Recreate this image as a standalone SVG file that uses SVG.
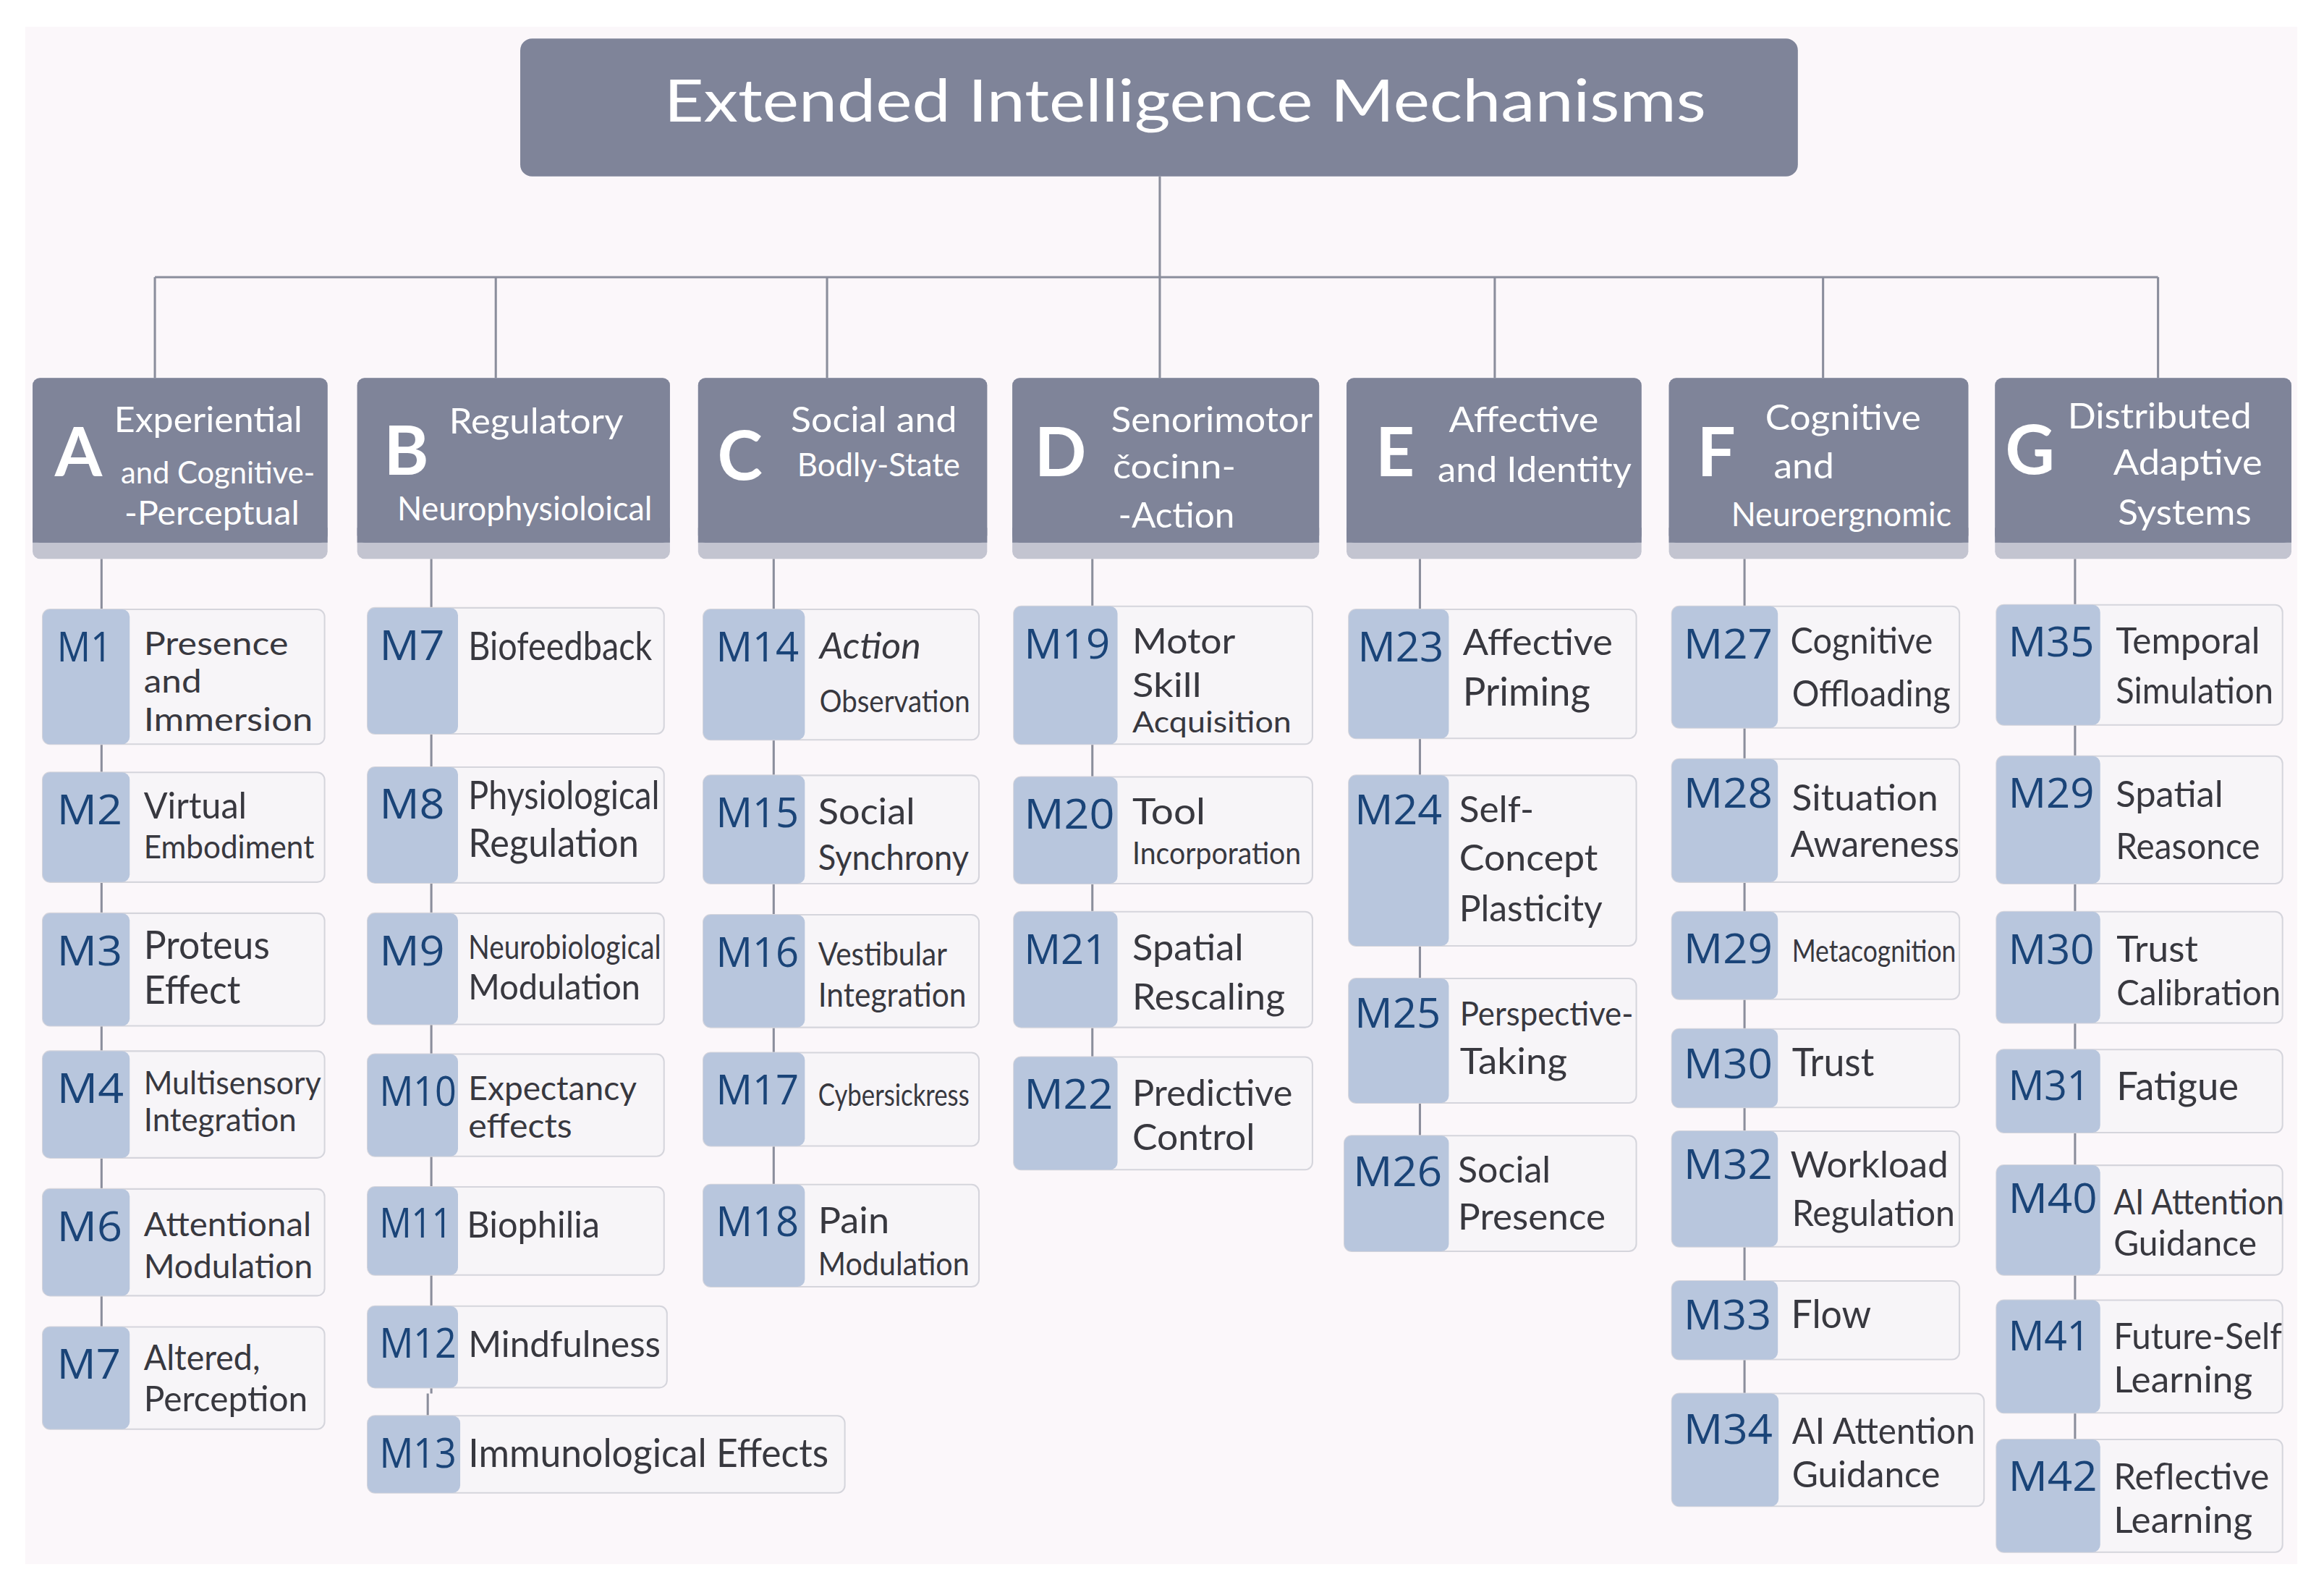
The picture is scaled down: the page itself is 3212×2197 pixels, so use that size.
<svg xmlns="http://www.w3.org/2000/svg" width="3212" height="2197" viewBox="0 0 3212 2197">
<style>
.cat{fill:#7f8499}
.band{fill:#c3c4d0}
.ct{font-family:Lato,"Liberation Sans",sans-serif;fill:#ffffff}
.cl{font-family:Lato,"Liberation Sans",sans-serif;font-weight:bold;fill:#ffffff;font-size:46px}
.pn{fill:#f7f5f8;stroke:#d5d5dc;stroke-width:1}
.tb{fill:#b8c6dd}
.lb{font-family:"Open Sans","Liberation Sans",sans-serif;fill:#1a4478;font-size:28px}
.d{font-family:Lato,"Liberation Sans",sans-serif;fill:#38383f}
.cn{stroke:#8b8e9c;stroke-width:1.5;fill:none}
</style>
<rect x="0" y="0" width="3212" height="2197" fill="#ffffff"/>
<g transform="scale(2.0485)">
<rect x="17" y="18" width="1533" height="1037" fill="#fbf7fa"/>

<g id="connectors">
<path class="cn" d="M782.5 119V187M104.5 187H1456M104.5 187V255M334.5 187V255M558 187V255M782.5 187V255M1008.5 187V255M1230 187V255M1456 187V255"/>
<path class="cn" d="M68.5 377V895M291 377V940M288.6 940V955M522 377V799M737 377V713M958 377V766M1177 377V940M1400 377V971"/>
</g>

<g id="root">
<rect x="351" y="26" width="862" height="93" rx="8" class="cat"/>
<text class="ct" x="448" y="82" font-size="40" textLength="703" lengthAdjust="spacingAndGlyphs">Extended Intelligence Mechanisms</text>
</g>

<g id="catA">
<rect x="22" y="255" width="199" height="122" rx="5" class="band"/>
<rect x="22" y="255" width="199" height="111" rx="5" class="cat"/>
<rect x="22" y="356" width="199" height="10" class="cat"/>
<text class="cl" x="37" y="321">A</text>
<text class="ct" x="77" y="291.5" font-size="24" textLength="127" lengthAdjust="spacingAndGlyphs">Experiential</text>
<text class="ct" x="81.5" y="326" font-size="21" textLength="131" lengthAdjust="spacingAndGlyphs">and Cognitive-</text>
<text class="ct" x="84" y="353.7" font-size="23" textLength="118" lengthAdjust="spacingAndGlyphs">-Perceptual</text>
</g>
<g id="catB">
<rect x="241" y="255" width="211" height="122" rx="5" class="band"/>
<rect x="241" y="255" width="211" height="111" rx="5" class="cat"/>
<rect x="241" y="356" width="211" height="10" class="cat"/>
<text class="cl" x="259" y="320">B</text>
<text class="ct" x="303" y="292.6" font-size="24" textLength="117.5" lengthAdjust="spacingAndGlyphs">Regulatory</text>
<text class="ct" x="268" y="351.2" font-size="23" textLength="172" lengthAdjust="spacingAndGlyphs">Neurophysioloical</text>
</g>
<g id="catC">
<rect x="471" y="255" width="195" height="122" rx="5" class="band"/>
<rect x="471" y="255" width="195" height="111" rx="5" class="cat"/>
<rect x="471" y="356" width="195" height="10" class="cat"/>
<text class="cl" x="484" y="323.8">C</text>
<text class="ct" x="533.6" y="291.4" font-size="24" textLength="112" lengthAdjust="spacingAndGlyphs">Social and</text>
<text class="ct" x="537.8" y="321.3" font-size="22" textLength="110" lengthAdjust="spacingAndGlyphs">Bodly-State</text>
</g>
<g id="catD">
<rect x="683" y="255" width="207" height="122" rx="5" class="band"/>
<rect x="683" y="255" width="207" height="111" rx="5" class="cat"/>
<rect x="683" y="356" width="207" height="10" class="cat"/>
<text class="cl" x="698" y="321.3">D</text>
<text class="ct" x="749.7" y="291.4" font-size="24" textLength="136" lengthAdjust="spacingAndGlyphs">Senorimotor</text>
<text class="ct" x="750.8" y="322.5" font-size="23" textLength="83" lengthAdjust="spacingAndGlyphs">čocinn-</text>
<text class="ct" x="754.5" y="355.7" font-size="24" textLength="78.5" lengthAdjust="spacingAndGlyphs">-Action</text>
</g>
<g id="catE">
<rect x="908.5" y="255" width="199" height="122" rx="5" class="band"/>
<rect x="908.5" y="255" width="199" height="111" rx="5" class="cat"/>
<rect x="908.5" y="356" width="199" height="10" class="cat"/>
<text class="cl" x="928" y="321">E</text>
<text class="ct" x="977.5" y="291.4" font-size="24" textLength="101" lengthAdjust="spacingAndGlyphs">Affective</text>
<text class="ct" x="970" y="325" font-size="24" textLength="130.8" lengthAdjust="spacingAndGlyphs">and Identity</text>
</g>
<g id="catF">
<rect x="1126" y="255" width="202" height="122" rx="5" class="band"/>
<rect x="1126" y="255" width="202" height="111" rx="5" class="cat"/>
<rect x="1126" y="356" width="202" height="10" class="cat"/>
<text class="cl" x="1145" y="321.3">F</text>
<text class="ct" x="1191" y="290" font-size="24" textLength="105" lengthAdjust="spacingAndGlyphs">Cognitive</text>
<text class="ct" x="1196.7" y="322.5" font-size="24" textLength="40.7" lengthAdjust="spacingAndGlyphs">and</text>
<text class="ct" x="1168" y="355" font-size="23" textLength="148.6" lengthAdjust="spacingAndGlyphs">Neuroergnomic</text>
</g>
<g id="catG">
<rect x="1346" y="255" width="200" height="122" rx="5" class="band"/>
<rect x="1346" y="255" width="200" height="111" rx="5" class="cat"/>
<rect x="1346" y="356" width="200" height="10" class="cat"/>
<text class="cl" x="1353" y="319.9">G</text>
<text class="ct" x="1395" y="288.9" font-size="24" textLength="124" lengthAdjust="spacingAndGlyphs">Distributed</text>
<text class="ct" x="1425.8" y="320" font-size="24" textLength="100.5" lengthAdjust="spacingAndGlyphs">Adaptive</text>
<text class="ct" x="1429" y="353.7" font-size="24" textLength="90" lengthAdjust="spacingAndGlyphs">Systems</text>
</g>

<!-- Column A -->
<g id="A-M1"><rect class="pn" x="28.8" y="411" width="190.2" height="91" rx="5"/><rect class="tb" x="28.8" y="411" width="58.7" height="91" rx="5"/>
<text class="lb" x="38.5" y="446" textLength="37" lengthAdjust="spacingAndGlyphs">M1</text>
<text class="d" x="97" y="442" font-size="22" textLength="97.5" lengthAdjust="spacingAndGlyphs">Presence</text>
<text class="d" x="97" y="467" font-size="22" textLength="39" lengthAdjust="spacingAndGlyphs">and</text>
<text class="d" x="97" y="493" font-size="22" textLength="114" lengthAdjust="spacingAndGlyphs">Immersion</text></g>
<g id="A-M2"><rect class="pn" x="28.8" y="521" width="190.2" height="74" rx="5"/><rect class="tb" x="28.8" y="521" width="58.7" height="74" rx="5"/>
<text class="lb" x="38.5" y="556" textLength="44" lengthAdjust="spacingAndGlyphs">M2</text>
<text class="d" x="97" y="552" font-size="25" textLength="69.5" lengthAdjust="spacingAndGlyphs">Virtual</text>
<text class="d" x="97" y="579" font-size="22" textLength="115" lengthAdjust="spacingAndGlyphs">Embodiment</text></g>
<g id="A-M3"><rect class="pn" x="28.8" y="616" width="190.2" height="76" rx="5"/><rect class="tb" x="28.8" y="616" width="58.7" height="76" rx="5"/>
<text class="lb" x="38.5" y="651" textLength="44" lengthAdjust="spacingAndGlyphs">M3</text>
<text class="d" x="97" y="647" font-size="26" textLength="85" lengthAdjust="spacingAndGlyphs">Proteus</text>
<text class="d" x="97" y="677" font-size="26" textLength="65.3" lengthAdjust="spacingAndGlyphs">Effect</text></g>
<g id="A-M4"><rect class="pn" x="28.8" y="709" width="190.2" height="72" rx="5"/><rect class="tb" x="28.8" y="709" width="58.7" height="72" rx="5"/>
<text class="lb" x="38.5" y="744" textLength="45" lengthAdjust="spacingAndGlyphs">M4</text>
<text class="d" x="97" y="738" font-size="22" textLength="119.6" lengthAdjust="spacingAndGlyphs">Multisensory</text>
<text class="d" x="97" y="763" font-size="22" textLength="103" lengthAdjust="spacingAndGlyphs">Integration</text></g>
<g id="A-M6"><rect class="pn" x="28.8" y="802" width="190.2" height="72" rx="5"/><rect class="tb" x="28.8" y="802" width="58.7" height="72" rx="5"/>
<text class="lb" x="38.5" y="837" textLength="44" lengthAdjust="spacingAndGlyphs">M6</text>
<text class="d" x="97" y="834" font-size="23" textLength="113" lengthAdjust="spacingAndGlyphs">Attentional</text>
<text class="d" x="97" y="862" font-size="23" textLength="114" lengthAdjust="spacingAndGlyphs">Modulation</text></g>
<g id="A-M7"><rect class="pn" x="28.8" y="895" width="190.2" height="69" rx="5"/><rect class="tb" x="28.8" y="895" width="58.7" height="69" rx="5"/>
<text class="lb" x="38.5" y="930" textLength="43" lengthAdjust="spacingAndGlyphs">M7</text>
<text class="d" x="97" y="924" font-size="24" textLength="78.5" lengthAdjust="spacingAndGlyphs">Altered,</text>
<text class="d" x="97" y="952" font-size="24" textLength="110.6" lengthAdjust="spacingAndGlyphs">Perception</text></g>

<!-- Column B -->
<g id="B-M7"><rect class="pn" x="248" y="410" width="200" height="85" rx="5"/><rect class="tb" x="248" y="410" width="61" height="85" rx="5"/>
<text class="lb" x="256" y="445" textLength="44" lengthAdjust="spacingAndGlyphs">M7</text>
<text class="d" x="316" y="445" font-size="26" textLength="124" lengthAdjust="spacingAndGlyphs">Biofeedback</text></g>
<g id="B-M8"><rect class="pn" x="248" y="517.5" width="200" height="78" rx="5"/><rect class="tb" x="248" y="517.5" width="61" height="78" rx="5"/>
<text class="lb" x="256" y="552" textLength="44" lengthAdjust="spacingAndGlyphs">M8</text>
<text class="d" x="316" y="546" font-size="26" textLength="129" lengthAdjust="spacingAndGlyphs">Physiological</text>
<text class="d" x="316" y="578" font-size="26" textLength="115" lengthAdjust="spacingAndGlyphs">Regulation</text></g>
<g id="B-M9"><rect class="pn" x="248" y="616" width="200" height="75" rx="5"/><rect class="tb" x="248" y="616" width="61" height="75" rx="5"/>
<text class="lb" x="256" y="651" textLength="44" lengthAdjust="spacingAndGlyphs">M9</text>
<text class="d" x="316" y="646.7" font-size="23" textLength="130" lengthAdjust="spacingAndGlyphs">Neurobiological</text>
<text class="d" x="316" y="674" font-size="24" textLength="116" lengthAdjust="spacingAndGlyphs">Modulation</text></g>
<g id="B-M10"><rect class="pn" x="248" y="711" width="200" height="69" rx="5"/><rect class="tb" x="248" y="711" width="61" height="69" rx="5"/>
<text class="lb" x="256" y="746" textLength="52" lengthAdjust="spacingAndGlyphs">M10</text>
<text class="d" x="316" y="742" font-size="23" textLength="113.6" lengthAdjust="spacingAndGlyphs">Expectancy</text>
<text class="d" x="316" y="767.4" font-size="23" textLength="70" lengthAdjust="spacingAndGlyphs">effects</text></g>
<g id="B-M11"><rect class="pn" x="248" y="800.6" width="200" height="59.4" rx="5"/><rect class="tb" x="248" y="800.6" width="61" height="59.4" rx="5"/>
<text class="lb" x="256" y="835" textLength="49" lengthAdjust="spacingAndGlyphs">M11</text>
<text class="d" x="315" y="835" font-size="25" textLength="89.7" lengthAdjust="spacingAndGlyphs">Biophilia</text></g>
<g id="B-M12"><rect class="pn" x="248" y="881" width="202" height="55" rx="5"/><rect class="tb" x="248" y="881" width="61" height="55" rx="5"/>
<text class="lb" x="256" y="916" textLength="52" lengthAdjust="spacingAndGlyphs">M12</text>
<text class="d" x="316" y="915.5" font-size="25" textLength="129.7" lengthAdjust="spacingAndGlyphs">Mindfulness</text></g>
<g id="B-M13"><rect class="pn" x="248" y="955" width="322" height="52" rx="5"/><rect class="tb" x="248" y="955" width="62.5" height="52" rx="5"/>
<text class="lb" x="256" y="990" textLength="52" lengthAdjust="spacingAndGlyphs">M13</text>
<text class="d" x="316" y="989.6" font-size="26" textLength="243" lengthAdjust="spacingAndGlyphs">Immunological Effects</text></g>

<!-- Column C -->
<g id="C-M14"><rect class="pn" x="474.5" y="411" width="186" height="88" rx="5"/><rect class="tb" x="474.5" y="411" width="68.5" height="88" rx="5"/>
<text class="lb" x="483" y="446" textLength="56" lengthAdjust="spacingAndGlyphs">M14</text>
<text class="d" x="553" y="444" font-size="25" font-style="italic" textLength="68.4" lengthAdjust="spacingAndGlyphs">Action</text>
<text class="d" x="553" y="480.6" font-size="21" textLength="101.5" lengthAdjust="spacingAndGlyphs">Observation</text></g>
<g id="C-M15"><rect class="pn" x="474.5" y="523" width="186" height="73" rx="5"/><rect class="tb" x="474.5" y="523" width="68.5" height="73" rx="5"/>
<text class="lb" x="483" y="558" textLength="56" lengthAdjust="spacingAndGlyphs">M15</text>
<text class="d" x="552" y="556" font-size="25" textLength="65.3" lengthAdjust="spacingAndGlyphs">Social</text>
<text class="d" x="552" y="587" font-size="24" textLength="101.7" lengthAdjust="spacingAndGlyphs">Synchrony</text></g>
<g id="C-M16"><rect class="pn" x="474.5" y="617" width="186" height="76" rx="5"/><rect class="tb" x="474.5" y="617" width="68.5" height="76" rx="5"/>
<text class="lb" x="483" y="652" textLength="56" lengthAdjust="spacingAndGlyphs">M16</text>
<text class="d" x="552" y="651" font-size="22" textLength="87" lengthAdjust="spacingAndGlyphs">Vestibular</text>
<text class="d" x="552" y="679" font-size="23" textLength="100" lengthAdjust="spacingAndGlyphs">Integration</text></g>
<g id="C-M17"><rect class="pn" x="474.5" y="710" width="186" height="63" rx="5"/><rect class="tb" x="474.5" y="710" width="68.5" height="63" rx="5"/>
<text class="lb" x="483" y="745" textLength="56" lengthAdjust="spacingAndGlyphs">M17</text>
<text class="d" x="552" y="746" font-size="21" textLength="102" lengthAdjust="spacingAndGlyphs">Cybersickress</text></g>
<g id="C-M18"><rect class="pn" x="474.5" y="799" width="186" height="69" rx="5"/><rect class="tb" x="474.5" y="799" width="68.5" height="69" rx="5"/>
<text class="lb" x="483" y="834" textLength="56" lengthAdjust="spacingAndGlyphs">M18</text>
<text class="d" x="552" y="832" font-size="25" textLength="48" lengthAdjust="spacingAndGlyphs">Pain</text>
<text class="d" x="552" y="860" font-size="22" textLength="102" lengthAdjust="spacingAndGlyphs">Modulation</text></g>

<!-- Column D -->
<g id="D-M19"><rect class="pn" x="684" y="409" width="201.5" height="93" rx="5"/><rect class="tb" x="684" y="409" width="70" height="93" rx="5"/>
<text class="lb" x="691" y="444" textLength="58" lengthAdjust="spacingAndGlyphs">M19</text>
<text class="d" x="764" y="441" font-size="24" textLength="69.5" lengthAdjust="spacingAndGlyphs">Motor</text>
<text class="d" x="764" y="470" font-size="23" textLength="46.6" lengthAdjust="spacingAndGlyphs">Skill</text>
<text class="d" x="764" y="494" font-size="20" textLength="107.3" lengthAdjust="spacingAndGlyphs">Acquisition</text></g>
<g id="D-M20"><rect class="pn" x="684" y="524" width="201.5" height="72" rx="5"/><rect class="tb" x="684" y="524" width="70" height="72" rx="5"/>
<text class="lb" x="691" y="559" textLength="61" lengthAdjust="spacingAndGlyphs">M20</text>
<text class="d" x="764" y="556" font-size="25" textLength="49.3" lengthAdjust="spacingAndGlyphs">Tool</text>
<text class="d" x="764" y="582.7" font-size="21" textLength="113.8" lengthAdjust="spacingAndGlyphs">Incorporation</text></g>
<g id="D-M21"><rect class="pn" x="684" y="615" width="201.5" height="78" rx="5"/><rect class="tb" x="684" y="615" width="70" height="78" rx="5"/>
<text class="lb" x="691" y="650" textLength="56" lengthAdjust="spacingAndGlyphs">M21</text>
<text class="d" x="764" y="648" font-size="25" textLength="75" lengthAdjust="spacingAndGlyphs">Spatial</text>
<text class="d" x="764" y="680.8" font-size="25" textLength="103" lengthAdjust="spacingAndGlyphs">Rescaling</text></g>
<g id="D-M22"><rect class="pn" x="684" y="713" width="201.5" height="76" rx="5"/><rect class="tb" x="684" y="713" width="70" height="76" rx="5"/>
<text class="lb" x="691" y="748" textLength="60" lengthAdjust="spacingAndGlyphs">M22</text>
<text class="d" x="764" y="746" font-size="25" textLength="108" lengthAdjust="spacingAndGlyphs">Predictive</text>
<text class="d" x="764" y="775.7" font-size="25" textLength="82.7" lengthAdjust="spacingAndGlyphs">Control</text></g>

<!-- Column E -->
<g id="E-M23"><rect class="pn" x="910" y="411" width="194" height="87" rx="5"/><rect class="tb" x="910" y="411" width="67.5" height="87" rx="5"/>
<text class="lb" x="916" y="446" textLength="58" lengthAdjust="spacingAndGlyphs">M23</text>
<text class="d" x="987" y="442" font-size="25" textLength="101" lengthAdjust="spacingAndGlyphs">Affective</text>
<text class="d" x="987" y="476" font-size="26" textLength="86" lengthAdjust="spacingAndGlyphs">Priming</text></g>
<g id="E-M24"><rect class="pn" x="910" y="523" width="194" height="115" rx="5"/><rect class="tb" x="910" y="523" width="67.5" height="115" rx="5"/>
<text class="lb" x="914" y="556" textLength="59" lengthAdjust="spacingAndGlyphs">M24</text>
<text class="d" x="984.5" y="554.6" font-size="25" textLength="50.4" lengthAdjust="spacingAndGlyphs">Self-</text>
<text class="d" x="984.5" y="587.3" font-size="25" textLength="93.6" lengthAdjust="spacingAndGlyphs">Concept</text>
<text class="d" x="984.5" y="621.4" font-size="25" textLength="96.7" lengthAdjust="spacingAndGlyphs">Plasticity</text></g>
<g id="E-M25"><rect class="pn" x="910" y="660" width="194" height="84" rx="5"/><rect class="tb" x="910" y="660" width="67.5" height="84" rx="5"/>
<text class="lb" x="914" y="693" textLength="58" lengthAdjust="spacingAndGlyphs">M25</text>
<text class="d" x="985" y="691.7" font-size="23" textLength="117" lengthAdjust="spacingAndGlyphs">Perspective-</text>
<text class="d" x="985" y="724.3" font-size="25" textLength="72.4" lengthAdjust="spacingAndGlyphs">Taking</text></g>
<g id="E-M26"><rect class="pn" x="907" y="766" width="197" height="78" rx="5"/><rect class="tb" x="907" y="766" width="70.5" height="78" rx="5"/>
<text class="lb" x="913" y="800" textLength="60" lengthAdjust="spacingAndGlyphs">M26</text>
<text class="d" x="983.7" y="797.5" font-size="25" textLength="62.5" lengthAdjust="spacingAndGlyphs">Social</text>
<text class="d" x="983.7" y="829.3" font-size="25" textLength="99.5" lengthAdjust="spacingAndGlyphs">Presence</text></g>

<!-- Column F -->
<g id="F-M27"><rect class="pn" x="1128" y="409" width="194" height="82" rx="5"/><rect class="tb" x="1128" y="409" width="71.5" height="82" rx="5"/>
<text class="lb" x="1136" y="444" textLength="60" lengthAdjust="spacingAndGlyphs">M27</text>
<text class="d" x="1208" y="441" font-size="25" textLength="96" lengthAdjust="spacingAndGlyphs">Cognitive</text>
<text class="d" x="1209" y="476.3" font-size="25" textLength="107" lengthAdjust="spacingAndGlyphs">Offloading</text></g>
<g id="F-M28"><rect class="pn" x="1128" y="512" width="194" height="83" rx="5"/><rect class="tb" x="1128" y="512" width="71.5" height="83" rx="5"/>
<text class="lb" x="1136" y="545" textLength="60" lengthAdjust="spacingAndGlyphs">M28</text>
<text class="d" x="1209" y="546.9" font-size="25" textLength="98.7" lengthAdjust="spacingAndGlyphs">Situation</text>
<text class="d" x="1208" y="578" font-size="25" textLength="114" lengthAdjust="spacingAndGlyphs">Awareness</text></g>
<g id="F-M29"><rect class="pn" x="1128" y="615" width="194" height="59" rx="5"/><rect class="tb" x="1128" y="615" width="71.5" height="59" rx="5"/>
<text class="lb" x="1136" y="649.6" textLength="60" lengthAdjust="spacingAndGlyphs">M29</text>
<text class="d" x="1209" y="648.7" font-size="21" textLength="110.7" lengthAdjust="spacingAndGlyphs">Metacognition</text></g>
<g id="F-M30"><rect class="pn" x="1128" y="694" width="194" height="53" rx="5"/><rect class="tb" x="1128" y="694" width="71.5" height="53" rx="5"/>
<text class="lb" x="1136" y="727.4" textLength="60" lengthAdjust="spacingAndGlyphs">M30</text>
<text class="d" x="1209" y="726" font-size="26" textLength="55.5" lengthAdjust="spacingAndGlyphs">Trust</text></g>
<g id="F-M32"><rect class="pn" x="1128" y="763" width="194" height="78" rx="5"/><rect class="tb" x="1128" y="763" width="71.5" height="78" rx="5"/>
<text class="lb" x="1136" y="795" textLength="60" lengthAdjust="spacingAndGlyphs">M32</text>
<text class="d" x="1208" y="794.3" font-size="25" textLength="106.5" lengthAdjust="spacingAndGlyphs">Workload</text>
<text class="d" x="1209" y="827" font-size="25" textLength="110" lengthAdjust="spacingAndGlyphs">Regulation</text></g>
<g id="F-M33"><rect class="pn" x="1128" y="864" width="194" height="53" rx="5"/><rect class="tb" x="1128" y="864" width="71.5" height="53" rx="5"/>
<text class="lb" x="1136" y="897" textLength="59" lengthAdjust="spacingAndGlyphs">M33</text>
<text class="d" x="1208.5" y="895.8" font-size="26" textLength="54" lengthAdjust="spacingAndGlyphs">Flow</text></g>
<g id="F-M34"><rect class="pn" x="1128" y="940" width="210.6" height="76" rx="5"/><rect class="tb" x="1128" y="940" width="72" height="76" rx="5"/>
<text class="lb" x="1136" y="974" textLength="60" lengthAdjust="spacingAndGlyphs">M34</text>
<text class="d" x="1209" y="974" font-size="25" textLength="123.6" lengthAdjust="spacingAndGlyphs">AI Attention</text>
<text class="d" x="1209" y="1003" font-size="25" textLength="100" lengthAdjust="spacingAndGlyphs">Guidance</text></g>

<!-- Column G -->
<g id="G-M35"><rect class="pn" x="1347" y="408" width="193" height="81" rx="5"/><rect class="tb" x="1347" y="408" width="70" height="81" rx="5"/>
<text class="lb" x="1355" y="443" textLength="58" lengthAdjust="spacingAndGlyphs">M35</text>
<text class="d" x="1427.5" y="441" font-size="25" textLength="97.3" lengthAdjust="spacingAndGlyphs">Temporal</text>
<text class="d" x="1427.5" y="474.7" font-size="25" textLength="106.3" lengthAdjust="spacingAndGlyphs">Simulation</text></g>
<g id="G-M29"><rect class="pn" x="1347" y="510" width="193" height="86" rx="5"/><rect class="tb" x="1347" y="510" width="70" height="86" rx="5"/>
<text class="lb" x="1355" y="544.8" textLength="58" lengthAdjust="spacingAndGlyphs">M29</text>
<text class="d" x="1427.5" y="544.3" font-size="25" textLength="72.5" lengthAdjust="spacingAndGlyphs">Spatial</text>
<text class="d" x="1427.5" y="579.3" font-size="25" textLength="97.3" lengthAdjust="spacingAndGlyphs">Reasonce</text></g>
<g id="G-M30"><rect class="pn" x="1347" y="615" width="193" height="75" rx="5"/><rect class="tb" x="1347" y="615" width="70" height="75" rx="5"/>
<text class="lb" x="1355" y="650" textLength="58" lengthAdjust="spacingAndGlyphs">M30</text>
<text class="d" x="1428" y="649" font-size="25" textLength="55" lengthAdjust="spacingAndGlyphs">Trust</text>
<text class="d" x="1428" y="677.9" font-size="24" textLength="110.8" lengthAdjust="spacingAndGlyphs">Calibration</text></g>
<g id="G-M31"><rect class="pn" x="1347" y="708" width="193" height="56" rx="5"/><rect class="tb" x="1347" y="708" width="70" height="56" rx="5"/>
<text class="lb" x="1355" y="742" textLength="55" lengthAdjust="spacingAndGlyphs">M31</text>
<text class="d" x="1428" y="742" font-size="26" textLength="82.4" lengthAdjust="spacingAndGlyphs">Fatigue</text></g>
<g id="G-M40"><rect class="pn" x="1347" y="786" width="193" height="74" rx="5"/><rect class="tb" x="1347" y="786" width="70" height="74" rx="5"/>
<text class="lb" x="1355" y="818" textLength="60" lengthAdjust="spacingAndGlyphs">M40</text>
<text class="d" x="1426" y="819" font-size="24" textLength="115" lengthAdjust="spacingAndGlyphs">AI Attention</text>
<text class="d" x="1426" y="846.9" font-size="24" textLength="96.6" lengthAdjust="spacingAndGlyphs">Guidance</text></g>
<g id="G-M41"><rect class="pn" x="1347" y="877" width="193" height="76" rx="5"/><rect class="tb" x="1347" y="877" width="70" height="76" rx="5"/>
<text class="lb" x="1355" y="911" textLength="55" lengthAdjust="spacingAndGlyphs">M41</text>
<text class="d" x="1426" y="909.7" font-size="25" textLength="113.6" lengthAdjust="spacingAndGlyphs">Future-Self</text>
<text class="d" x="1426" y="939" font-size="25" textLength="93.7" lengthAdjust="spacingAndGlyphs">Learning</text></g>
<g id="G-M42"><rect class="pn" x="1347" y="971" width="193" height="76" rx="5"/><rect class="tb" x="1347" y="971" width="70" height="76" rx="5"/>
<text class="lb" x="1355" y="1005.6" textLength="60" lengthAdjust="spacingAndGlyphs">M42</text>
<text class="d" x="1426" y="1004.7" font-size="25" textLength="105" lengthAdjust="spacingAndGlyphs">Reflective</text>
<text class="d" x="1426" y="1034" font-size="25" textLength="93.7" lengthAdjust="spacingAndGlyphs">Learning</text></g>
</g>
</svg>
